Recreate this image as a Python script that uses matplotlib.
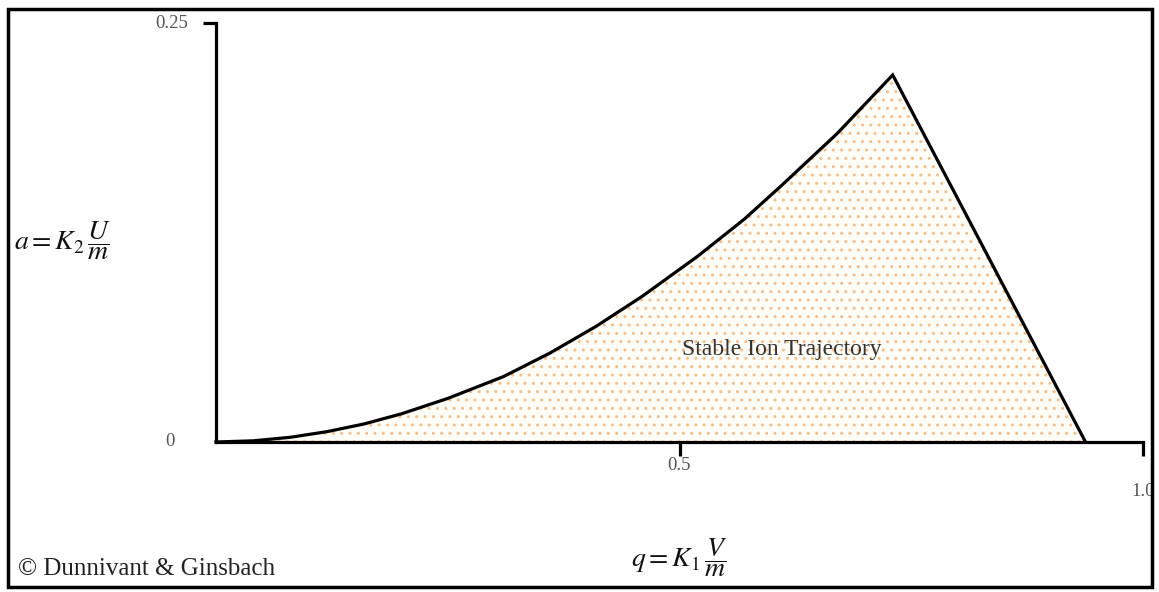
import numpy as np
import matplotlib.pyplot as plt
from matplotlib.patches import Rectangle

plt.rcParams['font.family'] = ['Liberation Serif', 'DejaVu Serif']
plt.rcParams['mathtext.fontset'] = 'stix'
plt.rcParams['hatch.linewidth'] = 1.0

# left edge of the stability region (q, a) from the origin up to the apex
q_left = [0.0, 0.04, 0.08, 0.12, 0.16, 0.20, 0.25, 0.31, 0.36, 0.41, 0.46, 0.52, 0.57, 0.61, 0.67, 0.73]
a_left = [0.0, 0.0007, 0.0028, 0.0062, 0.0108, 0.0168, 0.026, 0.039, 0.053, 0.069, 0.087, 0.111, 0.133, 0.153, 0.184, 0.219]
# right edge: apex straight down to the q axis
q_right = [0.73, 0.938]
a_right = [0.219, 0.0]

y_ticks = [0, 0.25]
y_tick_labels = ["0", "0.25"]
x_ticks = [0.5, 1.0]
x_tick_labels = ["0.5", "1.0"]

W, H = 1159, 592
fig = plt.figure(figsize=(W / 100, H / 100), dpi=100)
ax = fig.add_axes([216 / W, 150 / H, 927 / W, 419 / H])
ax.set_xlim(0, 1)
ax.set_ylim(0, 0.25)

# shaded stable region
poly_q = q_left + q_right[1:]
poly_a = a_left + a_right[1:]
ax.fill(poly_q, poly_a, facecolor='#fffdf8', edgecolor='#f3bf8c',
        hatch='..', linewidth=0, zorder=1)

ax.plot(poly_q, poly_a, color='black', lw=2.3,
        solid_joinstyle='miter', clip_on=False, zorder=3)

for s in ['top', 'right']:
    ax.spines[s].set_visible(False)
for s in ['left', 'bottom']:
    ax.spines[s].set_linewidth(2.3)

ax.set_yticks([0.25])
ax.set_xticks(x_ticks)
ax.tick_params(axis='y', length=9.5, width=2.3, labelleft=False)
ax.tick_params(axis='x', length=10, width=2.3, labelbottom=False)

lab_color = '#555555'
ax.annotate(y_tick_labels[0], xy=(0, y_ticks[0]), xytext=(-46, 0), textcoords='offset pixels',
            ha='center', va='center', fontsize=13.5, color=lab_color, annotation_clip=False)
ax.annotate(y_tick_labels[1], xy=(0, y_ticks[1]), xytext=(-28, 0), textcoords='offset pixels',
            ha='right', va='center', fontsize=13.5, color=lab_color, annotation_clip=False)
ax.annotate(x_tick_labels[0], xy=(x_ticks[0], 0), xytext=(0, -24), textcoords='offset pixels',
            ha='center', va='center', fontsize=13.5, color=lab_color, annotation_clip=False)
ax.annotate(x_tick_labels[1], xy=(x_ticks[1], 0), xytext=(0, -49), textcoords='offset pixels',
            ha='center', va='center', fontsize=13.5, color=lab_color, annotation_clip=False)

ax.text(0.61, 0.055, "Stable Ion Trajectory", ha='center', va='center',
        fontsize=17, color='#333333', zorder=4)

# axis formulas
fig.text(62 / W, 1 - 241 / H, r'$a = K_2\,\dfrac{U}{m}$', ha='center', va='center',
         fontsize=20, color='#111111')
fig.text(679 / W, 1 - 558 / H, r'$q = K_1\,\dfrac{V}{m}$', ha='center', va='center',
         fontsize=20, color='#111111')

fig.text(18 / W, 1 - 569 / H, "\u00a9 Dunnivant & Ginsbach", ha='left', va='center',
         fontsize=18, color='#222222')

# frame around the whole figure
fig.add_artist(Rectangle((8 / W, 5 / H), (1152 - 8) / W, (587 - 9) / H,
                         transform=fig.transFigure, fill=False, lw=2.5, ec='black'))

fig.savefig('out.png', dpi=100)
